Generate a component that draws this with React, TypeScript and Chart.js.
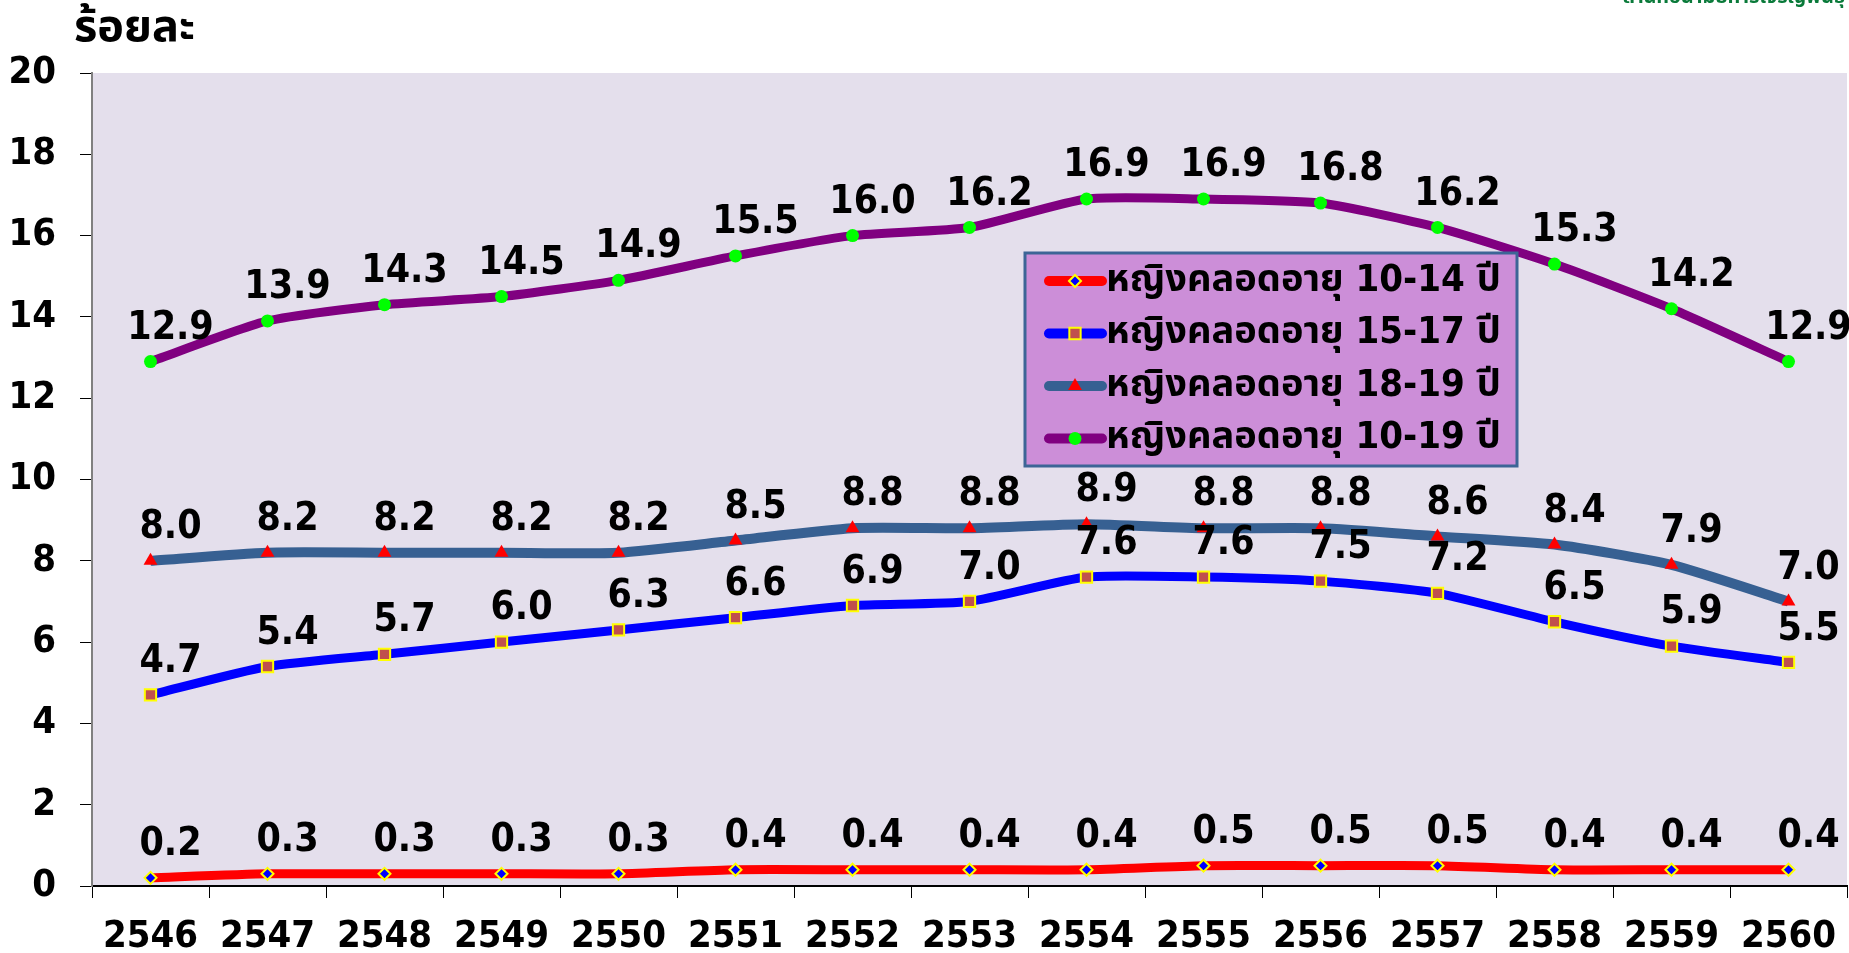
import React, { useEffect, useRef } from "react";
import { Chart, registerables } from "chart.js";

Chart.register(...registerables);

const years = ["2546", "2547", "2548", "2549", "2550", "2551", "2552", "2553", "2554", "2555", "2556", "2557", "2558", "2559", "2560"];
const age10to14 = [0.2, 0.3, 0.3, 0.3, 0.3, 0.4, 0.4, 0.4, 0.4, 0.5, 0.5, 0.5, 0.4, 0.4, 0.4];
const age15to17 = [4.7, 5.4, 5.7, 6.0, 6.3, 6.6, 6.9, 7.0, 7.6, 7.6, 7.5, 7.2, 6.5, 5.9, 5.5];
const age18to19 = [8.0, 8.2, 8.2, 8.2, 8.2, 8.5, 8.8, 8.8, 8.9, 8.8, 8.8, 8.6, 8.4, 7.9, 7.0];
const age10to19 = [12.9, 13.9, 14.3, 14.5, 14.9, 15.5, 16.0, 16.2, 16.9, 16.9, 16.8, 16.2, 15.3, 14.2, 12.9];
const seriesNames = [
  "หญิงคลอดอายุ 10-14 ปี",
  "หญิงคลอดอายุ 15-17 ปี",
  "หญิงคลอดอายุ 18-19 ปี",
  "หญิงคลอดอายุ 10-19 ปี",
];
const yMin = 0;
const yMax = 20;
const yStep = 2;
const yAxisTitle = "ร้อยละ";
const sourceText = "สำนักอนามัยการเจริญพันธุ์";

const FONT = '"DejaVu Sans Condensed", "DejaVu Sans", "Noto Sans Thai", Tahoma, sans-serif';

function drawMarker(ctx: CanvasRenderingContext2D, style: string, x: number, y: number, r: number, fill: string, stroke: string, bw: number) {
  ctx.save();
  ctx.beginPath();
  if (style === "rectRot") {
    ctx.moveTo(x - r, y);
    ctx.lineTo(x, y - r);
    ctx.lineTo(x + r, y);
    ctx.lineTo(x, y + r);
    ctx.closePath();
  } else if (style === "rect") {
    const s = Math.SQRT1_2 * r;
    ctx.rect(x - s, y - s, 2 * s, 2 * s);
  } else if (style === "triangle") {
    const h = r * 1.5;
    const w = r * Math.sqrt(3) / 2;
    ctx.moveTo(x, y - r);
    ctx.lineTo(x + w, y + h - r);
    ctx.lineTo(x - w, y + h - r);
    ctx.closePath();
  } else {
    ctx.arc(x, y, r, 0, Math.PI * 2);
  }
  ctx.fillStyle = fill;
  ctx.fill();
  if (bw > 0) {
    ctx.lineWidth = bw;
    ctx.strokeStyle = stroke;
    ctx.stroke();
  }
  ctx.restore();
}

const valueLabelPlugin = {
  id: "valueLabels",
  afterDatasetsDraw(chart: any) {
    const ctx = chart.ctx as CanvasRenderingContext2D;
    ctx.save();
    ctx.font = `bold 39px ${FONT}`;
    ctx.fillStyle = "#000";
    ctx.textAlign = "center";
    ctx.textBaseline = "middle";
    chart.data.datasets.forEach((ds: any, i: number) => {
      const meta = chart.getDatasetMeta(i);
      meta.data.forEach((pt: any, j: number) => {
        const v = ds.data[j] as number;
        ctx.fillText(v.toFixed(1), pt.x + 20, pt.y - 33);
      });
    });
    ctx.restore();
  },
};

const boxLegendPlugin = {
  id: "boxLegend",
  afterDraw(chart: any) {
    const ctx = chart.ctx as CanvasRenderingContext2D;
    const bx = 1025, by = 253, bw = 492, bh = 213;
    ctx.save();
    ctx.fillStyle = "#CC8ED8";
    ctx.fillRect(bx, by, bw, bh);
    ctx.lineWidth = 3;
    ctx.strokeStyle = "#3C6596";
    ctx.strokeRect(bx, by, bw, bh);
    chart.data.datasets.forEach((ds: any, i: number) => {
      const y = 281 + i * 52.5;
      ctx.beginPath();
      ctx.lineCap = "round";
      ctx.lineWidth = 10;
      ctx.strokeStyle = ds.borderColor;
      ctx.moveTo(1049, y);
      ctx.lineTo(1102, y);
      ctx.stroke();
      drawMarker(ctx, ds.pointStyle, 1075, y, ds.pointRadius, ds.pointBackgroundColor, ds.pointBorderColor, ds.pointBorderWidth);
      ctx.font = `bold 38px ${FONT}`;
      ctx.fillStyle = "#000";
      ctx.textAlign = "left";
      ctx.textBaseline = "middle";
      ctx.fillText(ds.label, 1106, y);
    });
    ctx.restore();
  },
};

const plotBgPlugin = {
  id: "plotBg",
  beforeDraw(chart: any) {
    const { ctx, chartArea } = chart;
    ctx.save();
    ctx.fillStyle = "#E4DFEC";
    ctx.fillRect(chartArea.left, chartArea.top, chartArea.right - chartArea.left, chartArea.bottom - chartArea.top);
    ctx.restore();
  },
};

export default function App() {
  const canvasRef = useRef<HTMLCanvasElement | null>(null);

  useEffect(() => {
    document.body.style.margin = "0";
    if (!canvasRef.current) return;
    const chart = new Chart(canvasRef.current, {
      type: "line",
      data: {
        labels: years,
        datasets: [
          {
            label: seriesNames[0],
            data: age10to14,
            borderColor: "#FF0000",
            borderWidth: 9,
            pointStyle: "rectRot",
            pointRadius: 6,
            pointBackgroundColor: "#0000FF",
            pointBorderColor: "#FFFF00",
            pointBorderWidth: 2,
            tension: 0.2,
          },
          {
            label: seriesNames[1],
            data: age15to17,
            borderColor: "#0000FF",
            borderWidth: 9,
            pointStyle: "rect",
            pointRadius: 8,
            pointBackgroundColor: "#C0504D",
            pointBorderColor: "#FFFF00",
            pointBorderWidth: 2,
            tension: 0.2,
          },
          {
            label: seriesNames[2],
            data: age18to19,
            borderColor: "#376092",
            borderWidth: 10,
            pointStyle: "triangle",
            pointRadius: 8,
            pointBackgroundColor: "#FF0000",
            pointBorderColor: "#FF0000",
            pointBorderWidth: 0,
            tension: 0.2,
          },
          {
            label: seriesNames[3],
            data: age10to19,
            borderColor: "#800080",
            borderWidth: 9,
            pointStyle: "circle",
            pointRadius: 6.5,
            pointBackgroundColor: "#00FF00",
            pointBorderColor: "#00FF00",
            pointBorderWidth: 0,
            tension: 0.2,
          },
        ],
      },
      options: {
        animation: false,
        responsive: true,
        maintainAspectRatio: false,
        layout: { padding: { top: 73, right: 0, left: 0, bottom: 0 } },
        plugins: {
          legend: { display: false },
          tooltip: { enabled: false },
        },
        scales: {
          x: {
            offset: true,
            afterFit: (s: any) => { s.height = 67; },
            grid: {
              offset: true,
              drawOnChartArea: false,
              drawTicks: true,
              tickLength: 12,
              color: "#000",
            },
            border: { color: "#000", width: 2 },
            ticks: {
              color: "#000",
              font: { family: FONT, size: 38, weight: "bold" },
              padding: 16,
              maxRotation: 0,
              autoSkip: false,
            },
          },
          y: {
            min: yMin,
            max: yMax,
            afterFit: (s: any) => { s.width = 92; },
            grid: {
              drawOnChartArea: false,
              drawTicks: true,
              tickLength: 12,
              color: "#000",
            },
            border: { color: "#808080", width: 2 },
            ticks: {
              stepSize: yStep,
              color: "#000",
              font: { family: FONT, size: 38, weight: "bold" },
              padding: 24,
            },
          },
        },
      },
      plugins: [plotBgPlugin, valueLabelPlugin, boxLegendPlugin],
    } as any);
    return () => chart.destroy();
  }, []);

  return (
    <div style={{ position: "relative", width: 1849, height: 953, overflow: "hidden", background: "#fff" }}>
      <div style={{ position: "absolute", left: 0, top: 0, width: 1857, height: 953 }}>
        <canvas ref={canvasRef} />
      </div>
      <div
        style={{
          position: "absolute",
          left: 74,
          top: -4,
          fontFamily: FONT,
          fontWeight: "bold",
          fontSize: 45,
          color: "#000",
          lineHeight: "60px",
        }}
      >
        {yAxisTitle}
      </div>
      <div
        style={{
          position: "absolute",
          right: 4,
          top: -16,
          fontFamily: FONT,
          fontWeight: "bold",
          fontSize: 20,
          color: "#0A7A3A",
          lineHeight: "24px",
          whiteSpace: "nowrap",
        }}
      >
        {sourceText}
      </div>
    </div>
  );
}
